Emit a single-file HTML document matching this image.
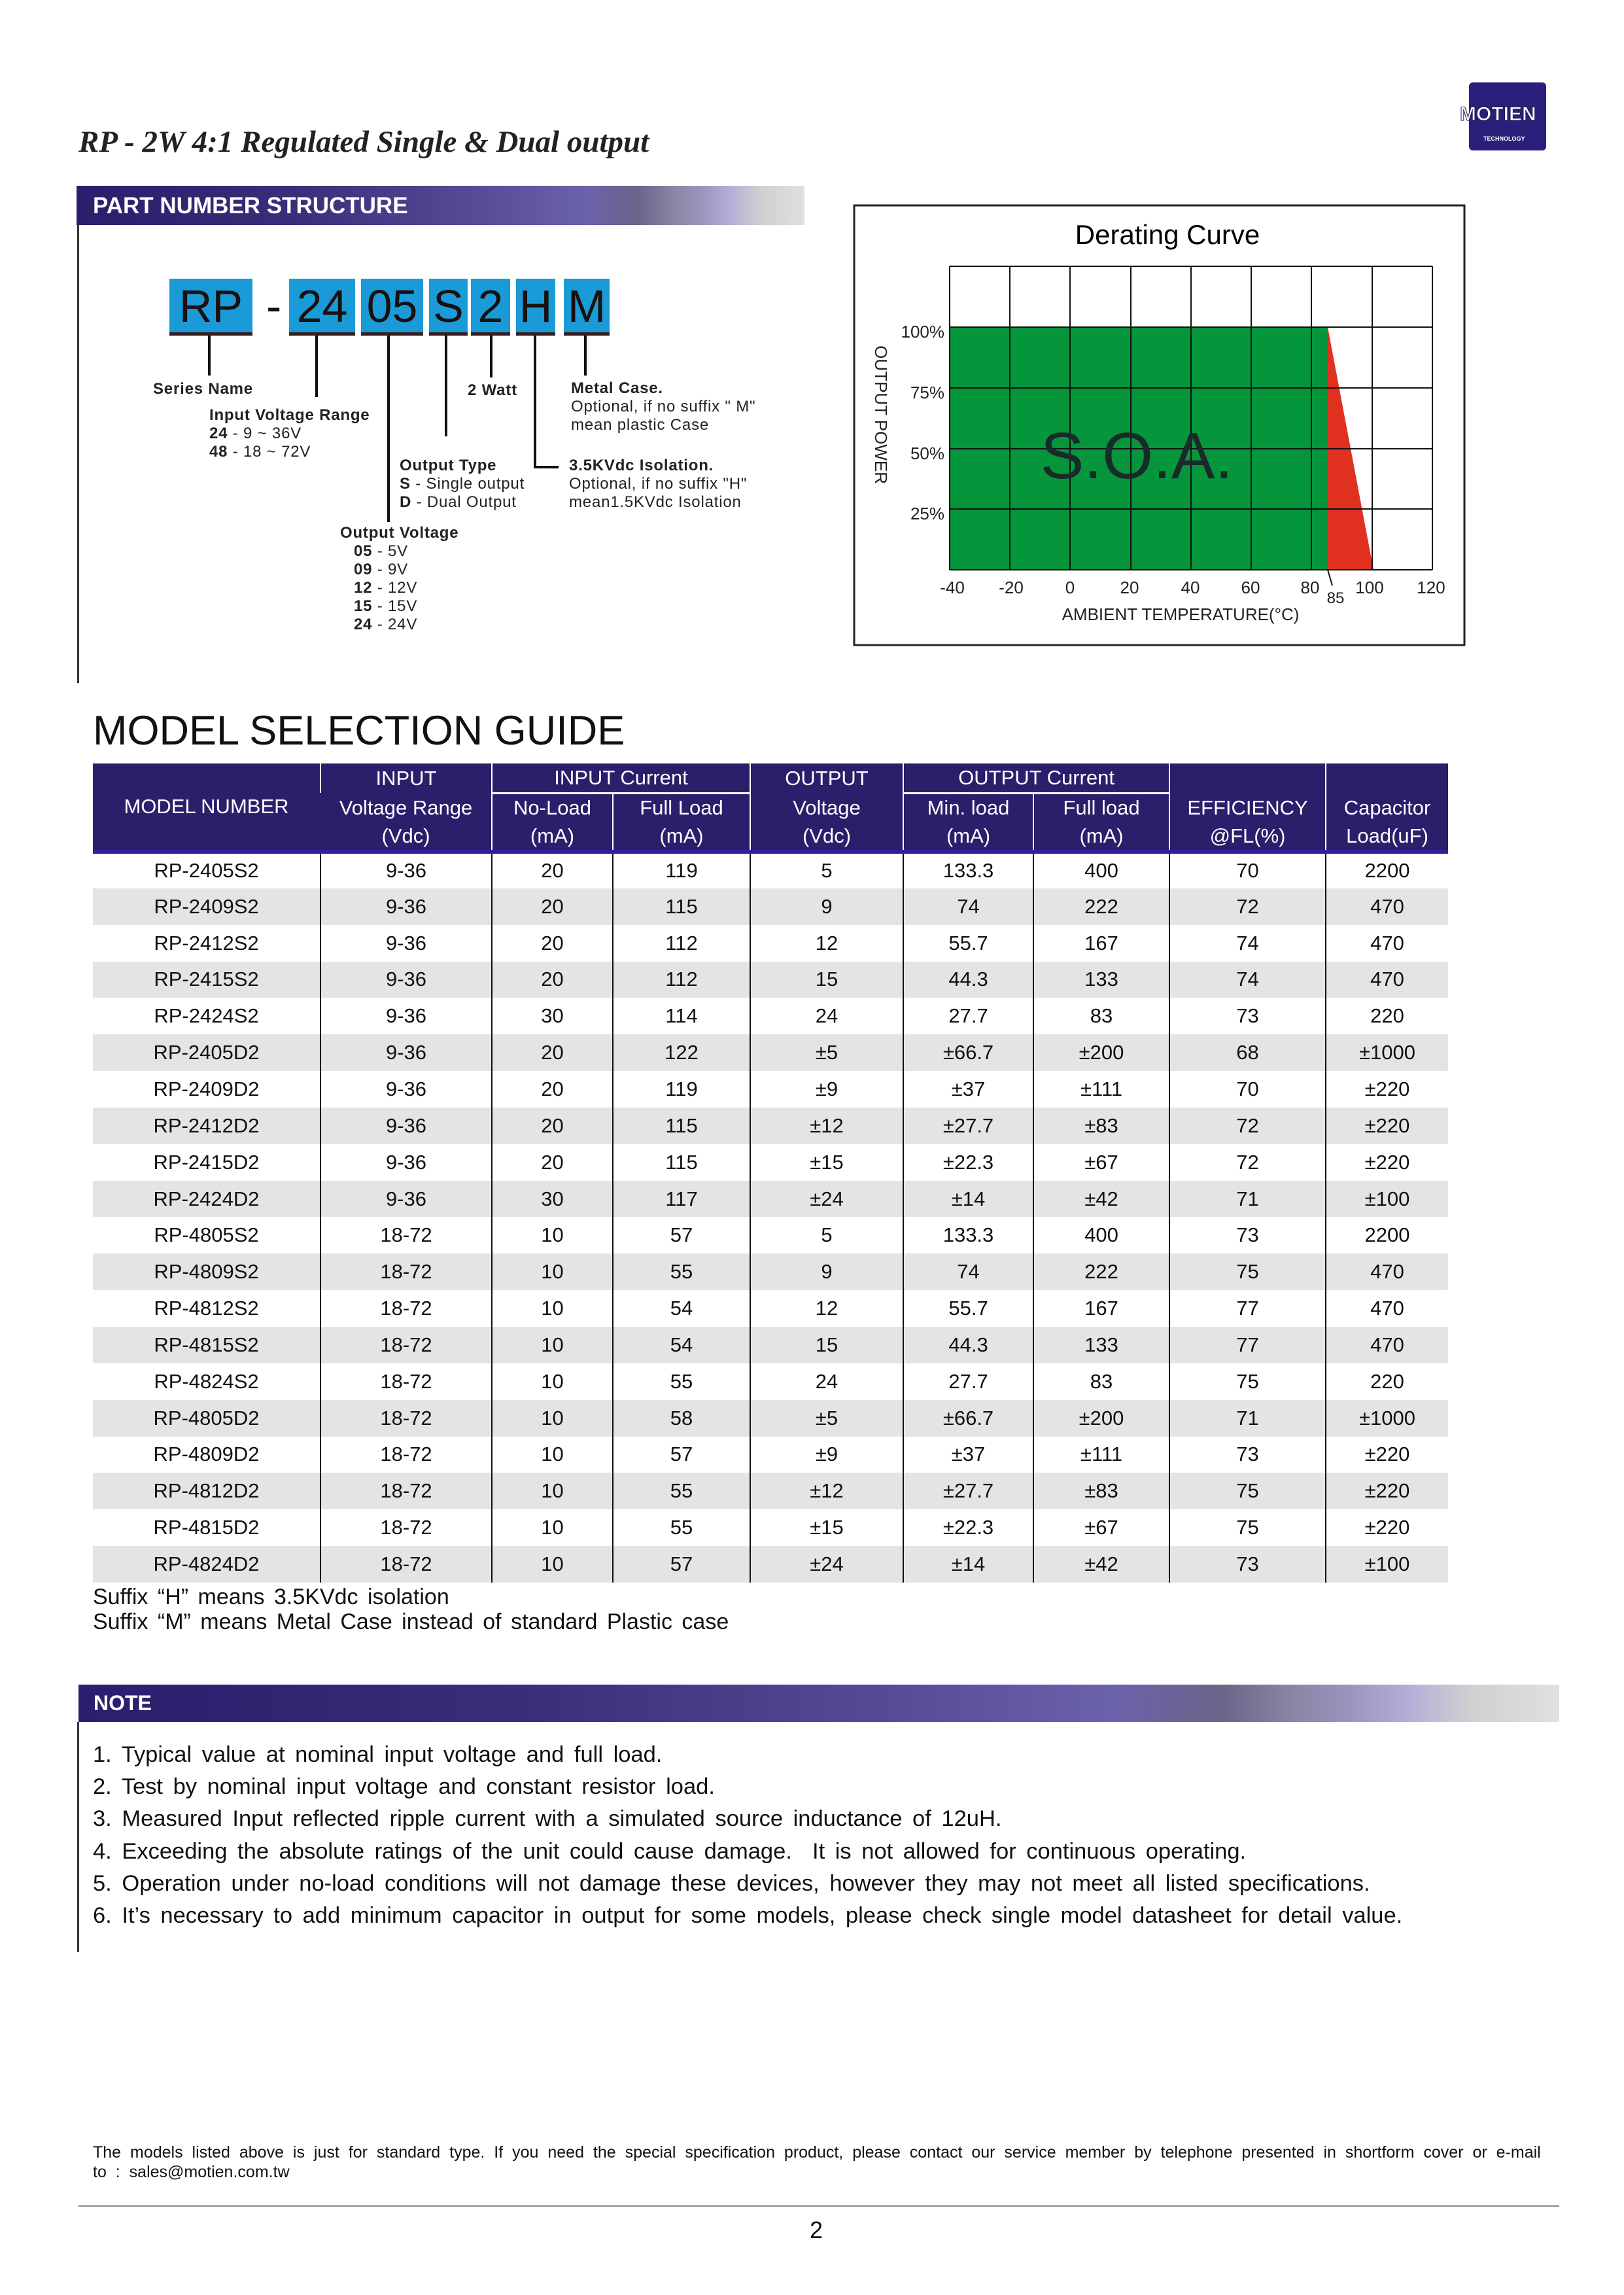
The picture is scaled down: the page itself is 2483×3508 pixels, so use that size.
<!DOCTYPE html>
<html><head><meta charset="utf-8"><style>
*{margin:0;padding:0;box-sizing:border-box}
body{width:2483px;height:3508px;background:#fff;position:relative;font-family:"Liberation Sans",sans-serif;color:#111;overflow:hidden}
.a{position:absolute;white-space:nowrap}
.bar{position:absolute;background:linear-gradient(90deg,#2a1f6e 0%,#2f2470 12%,#3a2e7a 30%,#4a3f8a 45%,#5b4f9c 58%,#6b62ac 70%,#6a6488 77%,#8a86a6 82%,#9a96be 86%,#b5b0d8 90%,#d0d0d0 94%,#e0e0e0 100%)}
.box{position:absolute;top:426px;height:87px;background:#1b9ad8;border-bottom:5px solid #3a1a1a;font-size:70px;line-height:84px;text-align:center;color:#1a1010}
.vl{position:absolute;width:4px;background:#111}
.lb{position:absolute;font-size:24px;line-height:28px;letter-spacing:0.8px;white-space:nowrap;color:#222}
table{position:absolute;left:142px;top:1167px;width:2072px;border-collapse:collapse;table-layout:fixed}
th{background:#2a1f6b;color:#fff;font-weight:normal;font-size:31px;height:45px;border-left:2px solid #fff;padding:0}
th:first-child{border-left:none}
td{font-size:31px;height:55.85px;text-align:center;border-left:2px solid #111;padding:0}
td:first-child{border-left:none}
tr.g td{background:#e4e4e4}
.grid line{stroke:#111;stroke-width:2}
</style></head><body>

<div class="a" style="left:120px;top:190px;font-family:'Liberation Serif',serif;font-style:italic;font-weight:bold;font-size:47px;color:#222">RP - 2W 4:1 Regulated Single &amp; Dual output</div>

<div class="a" style="left:2246px;top:126px;width:118px;height:104px;background:#2a1f7a;border-radius:6px"></div>
<div class="a" style="left:2232px;top:158px;font-weight:bold;font-size:30px;color:#fff;-webkit-text-stroke:1px #1a1a50">MOTIEN</div>
<div class="a" style="left:2268px;top:207px;font-weight:bold;font-size:9px;color:#fff">TECHNOLOGY</div>

<div class="bar" style="left:117px;top:284px;width:1113px;height:60px"></div>
<div class="a" style="left:142px;top:295px;font-weight:bold;font-size:35px;color:#fff">PART NUMBER STRUCTURE</div>
<div class="a" style="left:118px;top:344px;width:3px;height:700px;background:#333"></div>

<div class="box" style="left:259px;width:127px">RP</div>
<div class="a" style="left:407px;top:428px;font-size:70px">-</div>
<div class="box" style="left:442px;width:101px">24</div>
<div class="box" style="left:552px;width:95px">05</div>
<div class="box" style="left:656px;width:59px">S</div>
<div class="box" style="left:720px;width:60px">2</div>
<div class="box" style="left:789px;width:60px">H</div>
<div class="box" style="left:862px;width:70px">M</div>

<div class="vl" style="left:318px;top:513px;height:61px"></div>
<div class="vl" style="left:482px;top:513px;height:94px"></div>
<div class="vl" style="left:592px;top:513px;height:285px"></div>
<div class="vl" style="left:680px;top:513px;height:154px"></div>
<div class="vl" style="left:749px;top:513px;height:64px"></div>
<div class="vl" style="left:816px;top:513px;height:203px"></div>
<div class="a" style="left:816px;top:712px;width:38px;height:4px;background:#111"></div>
<div class="vl" style="left:893px;top:513px;height:61px"></div>

<div class="lb" style="left:234px;top:581px;font-weight:bold">Series Name</div>
<div class="lb" style="left:320px;top:621px"><b>Input Voltage Range</b><br><b>24</b> - 9 ~ 36V<br><b>48</b> - 18 ~ 72V</div>
<div class="lb" style="left:715px;top:583px;font-weight:bold">2 Watt</div>
<div class="lb" style="left:873px;top:580px"><b>Metal Case.</b><br>Optional, if no suffix " M"<br>mean plastic Case</div>
<div class="lb" style="left:611px;top:698px"><b>Output Type</b><br><b>S</b> - Single output<br><b>D</b> - Dual Output</div>
<div class="lb" style="left:870px;top:698px"><b>3.5KVdc Isolation.</b><br>Optional, if no suffix "H"<br>mean1.5KVdc Isolation</div>
<div class="lb" style="left:520px;top:801px;font-weight:bold">Output Voltage</div>
<div class="lb" style="left:541px;top:829px"><b>05</b> - 5V<br><b>09</b> - 9V<br><b>12</b> - 12V<br><b>15</b> - 15V<br><b>24</b> - 24V</div>

<svg class="a" style="left:0;top:0" width="2483" height="1100">
<rect x="1306" y="314" width="933" height="672" fill="none" stroke="#222" stroke-width="3"/>
<text x="1785" y="373" font-size="42" text-anchor="middle" font-family="Liberation Sans">Derating Curve</text>
<polygon points="1452,500 2030,500 2030,871 1452,871" fill="#05963c"/>
<polygon points="2030,500 2100,871 2030,871" fill="#e03020"/>
<g class="grid">
<line x1="1452" y1="407" x2="2190" y2="407"/><line x1="1452" y1="500" x2="2190" y2="500"/><line x1="1452" y1="593" x2="2190" y2="593"/><line x1="1452" y1="686" x2="2190" y2="686"/><line x1="1452" y1="778" x2="2190" y2="778"/><line x1="1452" y1="871" x2="2190" y2="871"/>
<line x1="1452" y1="407" x2="1452" y2="871"/><line x1="1544" y1="407" x2="1544" y2="871"/><line x1="1636" y1="407" x2="1636" y2="871"/><line x1="1729" y1="407" x2="1729" y2="871"/><line x1="1821" y1="407" x2="1821" y2="871"/><line x1="1913" y1="407" x2="1913" y2="871"/><line x1="2005" y1="407" x2="2005" y2="871"/><line x1="2098" y1="407" x2="2098" y2="871"/><line x1="2190" y1="407" x2="2190" y2="871"/>
<line x1="2030" y1="871" x2="2037" y2="895" stroke-width="1"/>
</g>
<g font-size="26" font-family="Liberation Sans" text-anchor="end" fill="#222">
<text x="1444" y="516">100%</text><text x="1444" y="609">75%</text><text x="1444" y="702">50%</text><text x="1444" y="794">25%</text>
</g>
<g font-size="26" font-family="Liberation Sans" text-anchor="middle" fill="#222">
<text x="1456" y="907">-40</text><text x="1546" y="907">-20</text><text x="1636" y="907">0</text><text x="1727" y="907">20</text><text x="1820" y="907">40</text><text x="1912" y="907">60</text><text x="2003" y="907">80</text><text x="2042" y="922" font-size="24">85</text><text x="2094" y="907">100</text><text x="2188" y="907">120</text>
<text x="1805" y="948">AMBIENT TEMPERATURE(°C)</text>
</g>
<text transform="translate(1338,634) rotate(90)" font-size="26" font-family="Liberation Sans" text-anchor="middle" fill="#222">OUTPUT POWER</text>
<text x="1738" y="731" font-size="100" font-family="Liberation Sans" text-anchor="middle" fill="#1a2a2a">S.O.A.</text>
</svg>

<div class="a" style="left:142px;top:1081px;font-size:63px;color:#111">MODEL SELECTION GUIDE</div>

<table>
<colgroup><col style="width:348px"><col style="width:262px"><col style="width:185px"><col style="width:210px"><col style="width:234px"><col style="width:199px"><col style="width:208px"><col style="width:239px"><col style="width:187px"></colgroup>
<tr><th rowspan="3" style="border-bottom:6px solid #3020a0">MODEL NUMBER</th><th>INPUT</th><th colspan="2" style="border-bottom:3px solid #fff">INPUT Current</th><th>OUTPUT</th><th colspan="2" style="border-bottom:3px solid #fff">OUTPUT Current</th><th></th><th></th></tr>
<tr><th>Voltage Range</th><th>No-Load</th><th>Full Load</th><th>Voltage</th><th>Min. load</th><th>Full load</th><th>EFFICIENCY</th><th>Capacitor</th></tr>
<tr style="border-bottom:6px solid #3020a0"><th>(Vdc)</th><th>(mA)</th><th>(mA)</th><th>(Vdc)</th><th>(mA)</th><th>(mA)</th><th>@FL(%)</th><th>Load(uF)</th></tr>
<tr><td>RP-2405S2</td><td>9-36</td><td>20</td><td>119</td><td>5</td><td>133.3</td><td>400</td><td>70</td><td>2200</td></tr>
<tr class="g"><td>RP-2409S2</td><td>9-36</td><td>20</td><td>115</td><td>9</td><td>74</td><td>222</td><td>72</td><td>470</td></tr>
<tr><td>RP-2412S2</td><td>9-36</td><td>20</td><td>112</td><td>12</td><td>55.7</td><td>167</td><td>74</td><td>470</td></tr>
<tr class="g"><td>RP-2415S2</td><td>9-36</td><td>20</td><td>112</td><td>15</td><td>44.3</td><td>133</td><td>74</td><td>470</td></tr>
<tr><td>RP-2424S2</td><td>9-36</td><td>30</td><td>114</td><td>24</td><td>27.7</td><td>83</td><td>73</td><td>220</td></tr>
<tr class="g"><td>RP-2405D2</td><td>9-36</td><td>20</td><td>122</td><td>±5</td><td>±66.7</td><td>±200</td><td>68</td><td>±1000</td></tr>
<tr><td>RP-2409D2</td><td>9-36</td><td>20</td><td>119</td><td>±9</td><td>±37</td><td>±111</td><td>70</td><td>±220</td></tr>
<tr class="g"><td>RP-2412D2</td><td>9-36</td><td>20</td><td>115</td><td>±12</td><td>±27.7</td><td>±83</td><td>72</td><td>±220</td></tr>
<tr><td>RP-2415D2</td><td>9-36</td><td>20</td><td>115</td><td>±15</td><td>±22.3</td><td>±67</td><td>72</td><td>±220</td></tr>
<tr class="g"><td>RP-2424D2</td><td>9-36</td><td>30</td><td>117</td><td>±24</td><td>±14</td><td>±42</td><td>71</td><td>±100</td></tr>
<tr><td>RP-4805S2</td><td>18-72</td><td>10</td><td>57</td><td>5</td><td>133.3</td><td>400</td><td>73</td><td>2200</td></tr>
<tr class="g"><td>RP-4809S2</td><td>18-72</td><td>10</td><td>55</td><td>9</td><td>74</td><td>222</td><td>75</td><td>470</td></tr>
<tr><td>RP-4812S2</td><td>18-72</td><td>10</td><td>54</td><td>12</td><td>55.7</td><td>167</td><td>77</td><td>470</td></tr>
<tr class="g"><td>RP-4815S2</td><td>18-72</td><td>10</td><td>54</td><td>15</td><td>44.3</td><td>133</td><td>77</td><td>470</td></tr>
<tr><td>RP-4824S2</td><td>18-72</td><td>10</td><td>55</td><td>24</td><td>27.7</td><td>83</td><td>75</td><td>220</td></tr>
<tr class="g"><td>RP-4805D2</td><td>18-72</td><td>10</td><td>58</td><td>±5</td><td>±66.7</td><td>±200</td><td>71</td><td>±1000</td></tr>
<tr><td>RP-4809D2</td><td>18-72</td><td>10</td><td>57</td><td>±9</td><td>±37</td><td>±111</td><td>73</td><td>±220</td></tr>
<tr class="g"><td>RP-4812D2</td><td>18-72</td><td>10</td><td>55</td><td>±12</td><td>±27.7</td><td>±83</td><td>75</td><td>±220</td></tr>
<tr><td>RP-4815D2</td><td>18-72</td><td>10</td><td>55</td><td>±15</td><td>±22.3</td><td>±67</td><td>75</td><td>±220</td></tr>
<tr class="g"><td>RP-4824D2</td><td>18-72</td><td>10</td><td>57</td><td>±24</td><td>±14</td><td>±42</td><td>73</td><td>±100</td></tr>
</table>

<div class="a" style="left:142px;top:2422px;font-size:34px;line-height:38px;word-spacing:5px">Suffix “H” means 3.5KVdc isolation<br>Suffix “M” means Metal Case instead of standard Plastic case</div>

<div class="bar" style="left:120px;top:2575px;width:2264px;height:57px"></div>
<div class="a" style="left:143px;top:2585px;font-weight:bold;font-size:32px;color:#fff">NOTE</div>
<div class="a" style="left:118px;top:2632px;width:3px;height:352px;background:#333"></div>
<div class="a" style="left:142px;top:2658px;font-size:34.5px;line-height:49.2px;word-spacing:6px">1. Typical value at nominal input voltage and full load.<br>2. Test by nominal input voltage and constant resistor load.<br>3. Measured Input reflected ripple current with a simulated source inductance of 12uH.<br>4. Exceeding the absolute ratings of the unit could cause damage.&nbsp; It is not allowed for continuous operating.<br>5. Operation under no-load conditions will not damage these devices, however they may not meet all listed specifications.<br>6. It’s necessary to add minimum capacitor in output for some models, please check single model datasheet for detail value.</div>

<div class="a" style="left:142px;top:3275px;font-size:25px;line-height:30px;word-spacing:7px">The models listed above is just for standard type. If you need the special specification product, please contact our service member by telephone presented in shortform cover or e-mail<br>to : sales@motien.com.tw</div>
<div class="a" style="left:120px;top:3371px;width:2264px;height:2px;background:#888"></div>
<div class="a" style="left:1238px;top:3388px;font-size:36px">2</div>
</body></html>
